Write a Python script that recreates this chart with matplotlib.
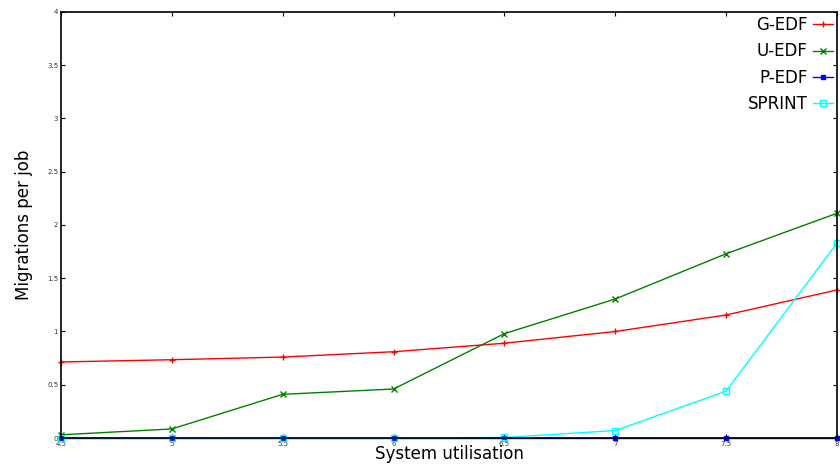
import matplotlib
matplotlib.use("Agg")
import matplotlib.pyplot as plt

utilisation = [4.5, 5.0, 5.5, 6.0, 6.5, 7.0, 7.5, 8.0]
g_edf = [0.714, 0.735, 0.76, 0.81, 0.89, 1.0, 1.155, 1.39]
u_edf = [0.03, 0.085, 0.41, 0.46, 0.98, 1.305, 1.73, 2.11]
p_edf = [0.0, 0.0, 0.0, 0.0, 0.0, 0.0, 0.0, 0.0]
sprint = [0.0, 0.0, 0.0, 0.0, 0.005, 0.07, 0.44, 1.83]

x_ticks = [4.5, 5, 5.5, 6, 6.5, 7, 7.5, 8]
x_tick_labels = ["4.5", "5", "5.5", "6", "6.5", "7", "7.5", "8"]
y_ticks = [0, 0.5, 1, 1.5, 2, 2.5, 3, 3.5, 4]
y_tick_labels = ["0", "0.5", "1", "1.5", "2", "2.5", "3", "3.5", "4"]

fig = plt.figure(figsize=(8.4, 4.68), dpi=100)
ax = fig.add_axes([0.0726, 0.0641, 0.9238, 0.9103])

ax.plot(utilisation, g_edf, color="red", marker="+", markersize=4, lw=1,
        label="G-EDF", clip_on=False)
ax.plot(utilisation, u_edf, color="green", marker="x", markersize=4, lw=1,
        label="U-EDF", clip_on=False)
ax.plot(utilisation, p_edf, color="blue", marker="s", markersize=3, lw=1,
        label="P-EDF", clip_on=False)
ax.plot(utilisation, sprint, color="cyan", marker="s", markersize=4, lw=1,
        markerfacecolor="none", label="SPRINT", clip_on=False)

ax.set_xlim(4.5, 8)
ax.set_ylim(0, 4)
ax.set_xticks(x_ticks)
ax.set_xticklabels(x_tick_labels)
ax.set_yticks(y_ticks)
ax.set_yticklabels(y_tick_labels)
ax.tick_params(direction="in", labelsize=5, length=3, width=0.8, pad=2,
               top=True, right=True, labelcolor="#333333")
for s in ax.spines.values():
    s.set_linewidth(1.2)

ax.set_xlabel("System utilisation", fontsize=12, labelpad=-1)
ax.set_ylabel("Migrations per job", fontsize=12, labelpad=10)

ax.legend(loc="upper right", frameon=False, markerfirst=False, fontsize=12,
          handlelength=1.2, handletextpad=0.3, labelspacing=0.5,
          borderaxespad=0.15, borderpad=0.1)

fig.savefig("out.png", dpi=100)
